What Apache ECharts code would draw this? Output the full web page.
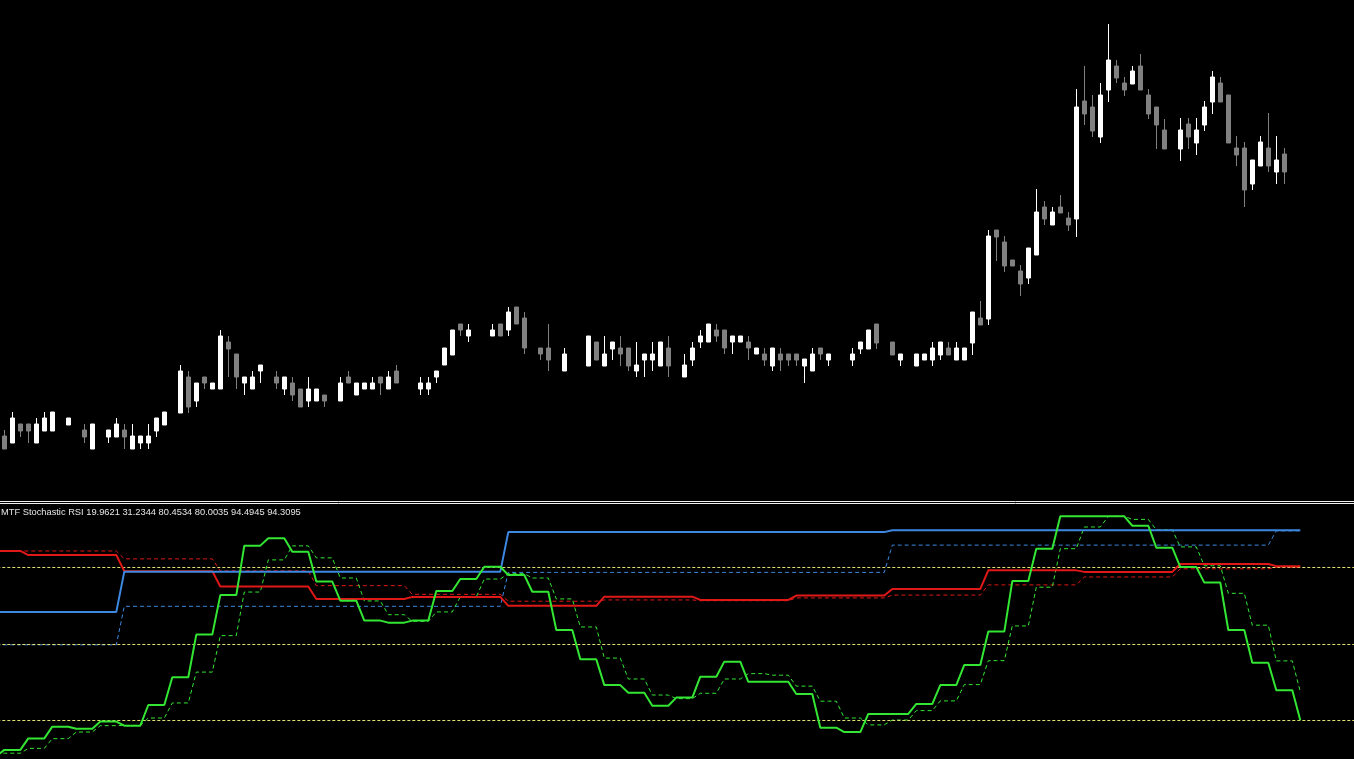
<!DOCTYPE html>
<html>
<head>
<meta charset="utf-8">
<script src="https://cdn.jsdelivr.net/npm/echarts@6/dist/echarts.min.js"></script>
<style>
html,body{margin:0;padding:0;background:#000;}
#chart{width:1354px;height:759px;}
</style>
</head>
<body>
<div id="chart"></div>
<script>
// Price candles, one per bar (first entry = bar just off the left edge). [open, close, low, high], arbitrary price units
const ohlc = [
null,
[64,51,51,70],[57,82,57,88],[76,69,63,76],[76,69,57,76],[57,76,57,82],[69,82,69,88],[69,88,69,88],null,[75,82,75,82],null,
[70,63,57,76],[51,76,51,76],null,[63,70,57,70],[63,76,63,82],[70,63,51,76],[51,64,51,76],[57,64,51,64],[57,64,51,76],[69,82,63,82],
[75,88,75,88],null,[87,129,87,135],[123,93,87,129],[99,117,93,117],[123,117,111,123],[111,117,111,117],[111,164,111,170],[158,151,123,164],[146,123,111,146],
[117,123,105,123],[111,123,111,129],[129,135,117,135],null,[123,117,111,129],[111,123,105,123],[117,105,99,123],[111,93,93,111],[99,111,93,123],[99,111,99,111],
[105,99,93,105],null,[99,117,99,123],[123,117,117,129],[105,117,105,117],[111,117,111,117],[111,117,111,123],[123,117,105,123],[111,123,111,129],[129,117,117,135],
null,null,[111,117,105,123],[111,117,105,123],[123,129,117,129],[135,152,135,152],[145,170,145,170],[176,170,164,176],[164,170,158,176],null,
null,[164,170,164,176],[176,164,164,176],[170,188,164,193],[193,176,176,193],[182,152,146,188],null,[152,146,140,152],[152,140,129,176],null,
[129,146,129,152],null,null,[134,164,134,164],[158,140,140,158],[134,146,134,164],[151,158,140,158],[152,146,134,164],[152,134,129,152],[129,135,123,158],
[140,146,123,146],[140,146,129,158],[134,158,134,158],[152,134,123,164],null,[123,135,123,146],[140,152,134,158],[158,164,152,170],[158,176,158,176],[170,164,158,176],
[170,152,146,170],[158,164,146,164],[158,164,158,164],[158,152,140,164],[146,152,146,152],[146,140,134,152],[134,152,129,152],[146,140,129,152],[146,140,134,146],[146,140,134,146],
[134,141,117,141],[129,146,129,152],[152,146,140,152],[140,146,134,146],null,null,[140,146,134,152],[151,158,146,158],[151,170,151,170],[176,157,151,176],
null,[158,145,145,158],[140,146,134,146],null,[134,146,134,146],[140,146,140,146],[140,152,134,158],[145,158,140,158],[152,145,145,158],[140,152,140,158],
[140,152,140,152],[157,188,145,188],[182,175,175,199],[181,264,175,270],[270,263,239,270],[258,234,228,264],[240,234,234,240],[229,216,204,235],[222,252,216,252],[245,288,245,311],
[293,281,275,299],[275,288,275,293],[293,287,287,305],[282,275,269,288],[281,393,263,411],[399,386,375,434],[393,369,363,405],[363,405,357,417],[410,440,398,476],[434,422,417,440],
[417,410,404,423],[416,429,416,434],[434,410,410,446],[405,386,381,411],[393,375,351,393],[370,351,351,381],null,[351,370,339,382],[376,363,351,382],[357,370,345,382],
[375,393,369,399],[398,423,386,429],[417,398,398,423],[405,357,357,405],[352,345,334,364],[352,310,293,358],[316,340,310,340],[334,358,334,364],[352,334,328,387],[328,340,316,364],
[346,328,316,352],null,null
];

// MTF Stochastic RSI lines (first entry = bar off the left edge)
const greenMain = [6.0,
8.4,8.4,8.4,12.9,12.9,12.9,17.5,17.5,17.5,16.7,16.7,16.7,
19.5,19.5,19.5,17.9,17.9,17.9,26.0,26.0,26.0,36.9,36.9,36.9,
53.6,53.6,53.6,69.1,69.1,69.1,88.5,88.5,88.5,91.4,91.4,91.4,
86.1,86.1,86.1,74.4,74.4,74.4,66.9,66.9,66.9,59.1,59.1,59.1,
58.3,58.3,58.3,59.1,59.1,59.1,70.7,70.7,70.7,75.4,75.4,75.4,
80.2,80.2,80.2,77.0,77.0,77.0,70.4,70.4,70.4,55.4,55.4,55.4,
43.9,43.9,43.9,33.8,33.8,33.8,30.8,30.8,30.8,25.7,25.7,25.7,
28.9,28.9,28.9,37.1,37.1,37.1,43.0,43.0,43.0,35.1,35.1,35.1,
35.1,35.1,35.1,30.3,30.3,30.3,17.1,17.1,17.1,15.4,15.4,15.4,
22.5,22.5,22.5,22.5,22.5,22.5,26.4,26.4,26.4,33.8,33.8,33.8,
41.7,41.7,41.7,54.8,54.8,54.8,74.6,74.6,74.6,87.3,87.3,87.3,
100,100,100,100,100,100,100,100,100,96.3,96.3,96.3,
87.7,87.7,87.7,80.1,80.1,80.1,74.0,74.0,74.0,55.4,55.4,55.4,
42.6,42.6,42.6,31.8,31.8,31.8,20.0];

const greenSignal = [7.1,
7.1,7.1,7.1,9.0,9.0,9.0,12.8,12.8,12.8,15.4,15.4,15.4,
17.9,17.9,17.9,18.0,18.0,18.0,20.9,20.9,20.9,26.8,26.8,26.8,
38.9,38.9,38.9,53.2,53.2,53.2,70.3,70.3,70.3,82.9,82.9,82.9,
88.4,88.4,88.4,83.7,83.7,83.7,75.8,75.8,75.8,66.8,66.8,66.8,
61.4,61.4,61.4,58.8,58.8,58.8,62.5,62.5,62.5,68.4,68.4,68.4,
75.4,75.4,75.4,77.5,77.5,77.5,75.8,75.8,75.8,67.6,67.6,67.6,
56.6,56.6,56.6,44.4,44.4,44.4,36.2,36.2,36.2,29.9,29.9,29.9,
28.5,28.5,28.5,30.6,30.6,30.6,36.2,36.2,36.2,38.3,38.3,38.3,
37.7,37.7,37.7,33.4,33.4,33.4,27.5,27.5,27.5,20.9,20.9,20.9,
18.2,18.2,18.2,20.1,20.1,20.1,23.8,23.8,23.8,27.6,27.6,27.6,
34.0,34.0,34.0,43.4,43.4,43.4,57.0,57.0,57.0,72.2,72.2,72.2,
87.3,87.3,87.3,95.8,95.8,95.8,100,100,100,98.8,98.8,98.8,
94.7,94.7,94.7,88.0,88.0,88.0,80.6,80.6,80.6,69.8,69.8,69.8,
57.3,57.3,57.3,43.3,43.3,43.3,31.2];

const redMain = [86.4,
86.4,86.4,86.4,84.8,84.8,84.8,84.8,84.8,84.8,84.8,84.8,84.8,
84.8,84.8,84.8,78.5,78.5,78.5,78.5,78.5,78.5,78.5,78.5,78.5,
78.5,78.5,78.5,72.5,72.5,72.5,72.5,72.5,72.5,72.5,72.5,72.5,
72.5,72.5,72.5,67.6,67.6,67.6,67.6,67.6,67.6,67.6,67.6,67.6,
67.6,67.6,67.6,68.4,68.4,68.4,68.4,68.4,68.4,68.4,68.4,68.4,
68.4,68.4,68.4,64.9,64.9,64.9,64.9,64.9,64.9,64.9,64.9,64.9,
64.9,64.9,64.9,68.5,68.5,68.5,68.5,68.5,68.5,68.5,68.5,68.5,
68.5,68.5,68.5,67.2,67.2,67.2,67.2,67.2,67.2,67.2,67.2,67.2,
67.2,67.2,67.2,68.9,68.9,68.9,68.9,68.9,68.9,68.9,68.9,68.9,
68.9,68.9,68.9,71.5,71.5,71.5,71.5,71.5,71.5,71.5,71.5,71.5,
71.5,71.5,71.5,78.8,78.8,78.8,78.8,78.8,78.8,78.8,78.8,78.8,
78.8,78.8,78.8,78.2,78.2,78.2,78.2,78.2,78.2,78.2,78.2,78.2,
78.2,78.2,78.2,81.3,81.3,81.3,81.3,81.3,81.3,81.3,81.3,81.3,
81.3,81.3,81.3,80.45,80.45,80.45,80.45];

const redSignal = [86.4,
86.4,86.4,86.4,86.4,86.4,86.4,86.4,86.4,86.4,86.4,86.4,86.4,
86.4,86.4,86.4,83.3,83.3,83.3,83.3,83.3,83.3,83.3,83.3,83.3,
83.3,83.3,83.3,78.6,78.6,78.6,78.6,78.6,78.6,78.6,78.6,78.6,
78.6,78.6,78.6,72.8,72.8,72.8,72.8,72.8,72.8,72.8,72.8,72.8,
72.8,72.8,72.8,69.4,69.4,69.4,69.4,69.4,69.4,69.4,69.4,69.4,
69.4,69.4,69.4,66.7,66.7,66.7,66.7,66.7,66.7,66.7,66.7,66.7,
66.7,66.7,66.7,67.2,67.2,67.2,67.2,67.2,67.2,67.2,67.2,67.2,
67.2,67.2,67.2,66.9,66.9,66.9,66.9,66.9,66.9,66.9,66.9,66.9,
66.9,66.9,66.9,68.0,68.0,68.0,68.0,68.0,68.0,68.0,68.0,68.0,
68.0,68.0,68.0,69.1,69.1,69.1,69.1,69.1,69.1,69.1,69.1,69.1,
69.1,69.1,69.1,73.1,73.1,73.1,73.1,73.1,73.1,73.1,73.1,73.1,
73.1,73.1,73.1,76.2,76.2,76.2,76.2,76.2,76.2,76.2,76.2,76.2,
76.2,76.2,76.2,79.4,79.4,79.4,79.4,79.4,79.4,79.4,79.4,79.4,
79.4,79.4,79.4,80.0,80.0,80.0,80.0];

const blueMain = [62.5,
62.5,62.5,62.5,62.5,62.5,62.5,62.5,62.5,62.5,62.5,62.5,62.5,
62.5,62.5,62.5,78.3,78.3,78.3,78.3,78.3,78.3,78.3,78.3,78.3,
78.3,78.3,78.3,78.3,78.3,78.3,78.3,78.3,78.3,78.3,78.3,78.3,
78.3,78.3,78.3,78.3,78.3,78.3,78.3,78.3,78.3,78.3,78.3,78.3,
78.3,78.3,78.3,78.3,78.3,78.3,78.3,78.3,78.3,78.3,78.3,78.3,
78.3,78.3,78.3,93.8,93.8,93.8,93.8,93.8,93.8,93.8,93.8,93.8,
93.8,93.8,93.8,93.8,93.8,93.8,93.8,93.8,93.8,93.8,93.8,93.8,
93.8,93.8,93.8,93.8,93.8,93.8,93.8,93.8,93.8,93.8,93.8,93.8,
93.8,93.8,93.8,93.8,93.8,93.8,93.8,93.8,93.8,93.8,93.8,93.8,
93.8,93.8,93.8,94.5,94.5,94.5,94.5,94.5,94.5,94.5,94.5,94.5,
94.5,94.5,94.5,94.5,94.5,94.5,94.5,94.5,94.5,94.5,94.5,94.5,
94.5,94.5,94.5,94.5,94.5,94.5,94.5,94.5,94.5,94.5,94.5,94.5,
94.5,94.5,94.5,94.5,94.5,94.5,94.5,94.5,94.5,94.5,94.5,94.5,
94.5,94.5,94.5,94.5,94.5,94.5,94.5];

const blueSignal = [49.6,
49.6,49.6,49.6,49.6,49.6,49.6,49.6,49.6,49.6,49.6,49.6,49.6,
49.6,49.6,49.6,64.7,64.7,64.7,64.7,64.7,64.7,64.7,64.7,64.7,
64.7,64.7,64.7,64.7,64.7,64.7,64.7,64.7,64.7,64.7,64.7,64.7,
64.7,64.7,64.7,64.7,64.7,64.7,64.7,64.7,64.7,64.7,64.7,64.7,
64.7,64.7,64.7,64.7,64.7,64.7,64.7,64.7,64.7,64.7,64.7,64.7,
64.7,64.7,64.7,78.0,78.0,78.0,78.0,78.0,78.0,78.0,78.0,78.0,
78.0,78.0,78.0,78.0,78.0,78.0,78.0,78.0,78.0,78.0,78.0,78.0,
78.0,78.0,78.0,78.0,78.0,78.0,78.0,78.0,78.0,78.0,78.0,78.0,
78.0,78.0,78.0,78.0,78.0,78.0,78.0,78.0,78.0,78.0,78.0,78.0,
78.0,78.0,78.0,88.7,88.7,88.7,88.7,88.7,88.7,88.7,88.7,88.7,
88.7,88.7,88.7,88.7,88.7,88.7,88.7,88.7,88.7,88.7,88.7,88.7,
88.7,88.7,88.7,88.7,88.7,88.7,88.7,88.7,88.7,88.7,88.7,88.7,
88.7,88.7,88.7,88.7,88.7,88.7,88.7,88.7,88.7,88.7,88.7,88.7,
88.7,88.7,88.7,94.3,94.3,94.3,94.3];

const levels = [20, 50, 80];
const indicatorLabel = 'MTF Stochastic RSI 19.9621 31.2344 80.4534 80.0035 94.4945 94.3095';

// bar slots incl. empty right-hand chart shift
const slotCount = 171;
const bars = Array.from({length: slotCount}, (_, i) => String(i));

const chart = echarts.init(document.getElementById('chart'), null, {renderer: 'canvas'});

const candleData = ohlc.map(c => c ? c : ['-', '-', '-', '-']);

const GREEN = '#33e633', RED = '#e01818', BLUE = '#3d88e0', YELLOW = '#e2e272';

function mainLine(name, data, color, z) {
  return {name, type: 'line', xAxisIndex: 1, yAxisIndex: 1, data, showSymbol: false, symbol: 'none',
    clip: false, z, lineStyle: {color, width: 2}, silent: true};
}
function sigLine(name, data, color, z) {
  return {name, type: 'line', xAxisIndex: 1, yAxisIndex: 1, data, showSymbol: false, symbol: 'none',
    clip: false, z, lineStyle: {color, width: 1, type: [4, 3]}, silent: true};
}

const option = {
  backgroundColor: '#000000',
  animation: false,
  grid: [
    {left: -7.7, top: 0, width: slotCount * 8, height: 500, outerBoundsMode: 'none', containLabel: false},
    {left: -7.7, top: 516.3, width: slotCount * 8, height: 255, outerBoundsMode: 'none', containLabel: false}
  ],
  xAxis: [
    {type: 'category', gridIndex: 0, data: bars, show: false, boundaryGap: true},
    {type: 'category', gridIndex: 1, data: bars, show: false, boundaryGap: true}
  ],
  yAxis: [
    {type: 'value', gridIndex: 0, min: 0, max: 500, show: false},
    {type: 'value', gridIndex: 1, min: 0, max: 100, show: false}
  ],
  graphic: [
    {type: 'line', shape: {x1: 0, y1: 501.5, x2: 1354, y2: 501.5}, style: {stroke: '#f0f0f0', lineWidth: 1}, silent: true},
    {type: 'line', shape: {x1: 0, y1: 503.5, x2: 1354, y2: 503.5}, style: {stroke: '#f0f0f0', lineWidth: 1}, silent: true},
    {type: 'text', style: {x: 1, y: 512, text: indicatorLabel, fill: '#e6e6e6',
      font: '9.3px "Liberation Sans", Arial, sans-serif', verticalAlign: 'middle'}, silent: true}
  ],
  series: [
    {
      name: 'Price', type: 'candlestick', xAxisIndex: 0, yAxisIndex: 0, data: candleData,
      barWidth: 4, silent: true,
      itemStyle: {color: '#ffffff', color0: '#808080', borderColor: '#ffffff', borderColor0: '#808080', borderWidth: 1}
    },
    Object.assign(sigLine('Blue signal', blueSignal, BLUE, 2), {
      markLine: {silent: true, symbol: 'none', label: {show: false},
        lineStyle: {color: YELLOW, width: 1, type: [3, 2]},
        data: levels.map(v => ({yAxis: v}))}
    }),
    sigLine('Red signal', redSignal, RED, 3),
    sigLine('Green signal', greenSignal, GREEN, 4),
    mainLine('Red main', redMain, RED, 5),
    mainLine('Blue main', blueMain, BLUE, 6),
    mainLine('Green main', greenMain, GREEN, 7)
  ]
};
chart.setOption(option);
</script>
</body>
</html>
